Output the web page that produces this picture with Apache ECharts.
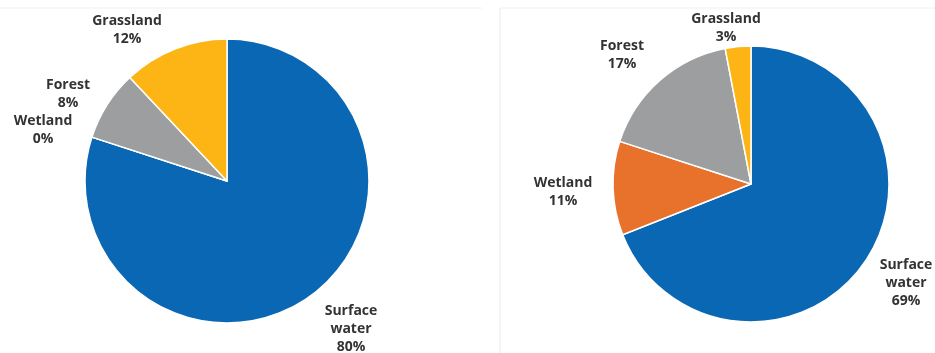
<!DOCTYPE html>
<html>
<head>
<meta charset="utf-8">
<script src="https://cdn.jsdelivr.net/npm/echarts@6/dist/echarts.min.js"></script>
<style>
html,body{margin:0;padding:0;background:#fff;}
#main{width:935px;height:353px;}
</style>
</head>
<body>
<div id="main"></div>
<script>
// Categories in clockwise order from 12 o'clock
const categories = ['Surface water', 'Wetland', 'Forest', 'Grassland'];
const leftValues = [80, 0, 8, 12];
const rightValues = [69, 11, 17, 3];
const colors = ['#0A67B4', '#E8712B', '#9C9EA0', '#FDB515'];

// Label text-block centres (text placement only)
const labelPos = {
  left:  {'Surface water': [351, 329], 'Wetland': [43, 130], 'Forest': [68, 94], 'Grassland': [127, 30]},
  right: {'Surface water': [906, 283], 'Wetland': [563, 192], 'Forest': [622, 55], 'Grassland': [726, 28]}
};

function makeData(values) {
  return categories.map((c, i) => ({name: c, value: values[i], itemStyle: {color: colors[i]}}));
}

function makeSeries(id, values, center, radius) {
  return {
    type: 'pie',
    id: id,
    center: center,
    radius: radius,
    startAngle: 90,
    clockwise: true,
    avoidLabelOverlap: false,
    minShowLabelAngle: 0,
    itemStyle: {borderColor: '#ffffff', borderWidth: 1.5},
    label: {
      show: true,
      position: 'outside',
      formatter: p => p.name.replace(' ', '\n') + '\n' + p.value + '%',
      color: '#333333',
      fontFamily: 'Open Sans',
      fontWeight: 'bold',
      fontSize: 14,
      lineHeight: 18,
      align: 'center'
    },
    labelLine: {show: false},
    labelLayout: function (params) {
      const pos = labelPos[id][categories[params.dataIndex]];
      return {x: pos[0], y: pos[1], align: 'center', verticalAlign: 'middle'};
    },
    emphasis: {disabled: true},
    data: makeData(values)
  };
}

const chart = echarts.init(document.getElementById('main'), null, {renderer: 'canvas'});
chart.setOption({
  animation: false,
  backgroundColor: '#ffffff',
  graphic: [
    {type: 'line', shape: {x1: 0, y1: 8, x2: 482, y2: 8}, style: {stroke: '#f0f0f0', lineWidth: 1}},
    {type: 'line', shape: {x1: 500, y1: 8, x2: 935, y2: 8}, style: {stroke: '#f0f0f0', lineWidth: 1}},
    {type: 'line', shape: {x1: 500, y1: 8, x2: 500, y2: 353}, style: {stroke: '#f0f0f0', lineWidth: 1.5}}
  ],
  series: [
    makeSeries('left', leftValues, [227, 181], 142),
    makeSeries('right', rightValues, [751, 184], 138)
  ]
});
</script>
</body>
</html>
